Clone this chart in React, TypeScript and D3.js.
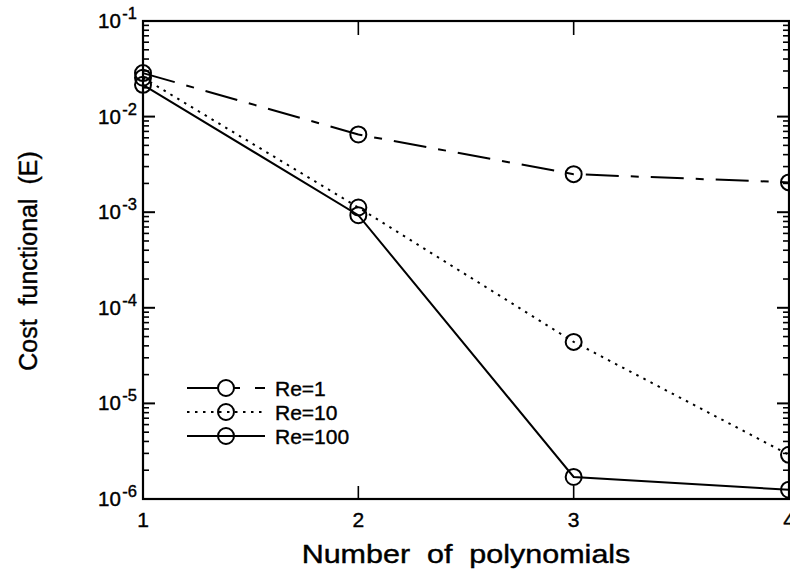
import React from "react";
import * as d3 from "d3";

const xValues = [1, 2, 3, 4];
const re1 = [0.0285, 0.0065, 0.0025, 0.00205];
const re10 = [0.0255, 0.00112, 4.4e-5, 2.9e-6];
const re100 = [0.0215, 0.00093, 1.7e-6, 1.25e-6];
const seriesNames = ["Re=1", "Re=10", "Re=100"];
const yTickExponents = [-1, -2, -3, -4, -5, -6];
const xTickLabels = ["1", "2", "3", "4"];
const xTitle = "Number\u00a0 of\u00a0 polynomials";
const yTitle = "Cost\u00a0 functional\u00a0 (E)";

const W = 790;
const H = 576;
const FONT = "'Liberation Sans', Arial, Helvetica, sans-serif";

export default function App() {
  const x = d3.scaleLinear().domain([1, 4]).range([143, 789]);
  const y = d3.scaleLog().domain([1e-6, 1e-1]).range([499, 21]);
  const left = 143, right = 789, top = 21, bottom = 499;

  const line = d3
    .line<number>()
    .x((_, i) => x(xValues[i]))
    .y((d) => y(d));

  const series = [
    { name: seriesNames[0], data: re1, dash: "33,12,8,12" },
    { name: seriesNames[1], data: re10, dash: "2.5,5.5" },
    { name: seriesNames[2], data: re100, dash: "" },
  ];

  const minorTicks: number[] = [];
  for (let e = -6; e < -1; e++) {
    for (let k = 2; k <= 9; k++) minorTicks.push(k * Math.pow(10, e));
  }

  const legendY = [388, 412, 436];
  const textStroke = { stroke: "#000", strokeWidth: 0.4 };

  return (
    <svg
      width={W}
      height={H}
      style={{ position: "absolute", left: 0, top: 0, background: "#fff" }}
      fontFamily={FONT}
    >
      <rect x={0} y={0} width={W} height={H} fill="#fff" />
      <rect x={left} y={top} width={right - left} height={bottom - top} fill="none" stroke="#000" strokeWidth={2.2} />
      {yTickExponents.map((e) => {
        const yy = y(Math.pow(10, e));
        return (
          <g key={e}>
            <line x1={left} x2={left + 12} y1={yy} y2={yy} stroke="#000" strokeWidth={2} />
            <line x1={right} x2={right - 12} y1={yy} y2={yy} stroke="#000" strokeWidth={2} />
            <text x={137} y={yy + 7} textAnchor="end" fontSize={20.5} {...textStroke}>
              10<tspan fontSize={16.5} dx={1.5} dy={-9}>{String(e)}</tspan>
            </text>
          </g>
        );
      })}
      {minorTicks.map((v, i) => (
        <g key={i}>
          <line x1={left} x2={left + 6} y1={y(v)} y2={y(v)} stroke="#000" strokeWidth={1.6} />
          <line x1={right} x2={right - 6} y1={y(v)} y2={y(v)} stroke="#000" strokeWidth={1.6} />
        </g>
      ))}
      {xValues.map((v, i) => (
        <g key={v}>
          <line x1={x(v)} x2={x(v)} y1={bottom} y2={bottom - 13} stroke="#000" strokeWidth={1.6} />
          <line x1={x(v)} x2={x(v)} y1={top} y2={top + 14} stroke="#000" strokeWidth={1.6} />
          <text x={x(v)} y={527} textAnchor="middle" fontSize={21} {...textStroke}>
            {xTickLabels[i]}
          </text>
        </g>
      ))}
      {series.map((s) => (
        <g key={s.name}>
          <path d={line(s.data) || ""} fill="none" stroke="#000" strokeWidth={2} strokeDasharray={s.dash} />
          {s.data.map((v, i) => (
            <circle key={i} cx={x(xValues[i])} cy={y(v)} r={8} fill="none" stroke="#000" strokeWidth={2} />
          ))}
        </g>
      ))}
      <g>
        <line x1={187} x2={218} y1={legendY[0]} y2={legendY[0]} stroke="#000" strokeWidth={2} />
        <line x1={234} x2={240} y1={legendY[0]} y2={legendY[0]} stroke="#000" strokeWidth={2} />
        <line x1={255} x2={265} y1={legendY[0]} y2={legendY[0]} stroke="#000" strokeWidth={2} />
        <circle cx={226} cy={legendY[0]} r={8} fill="none" stroke="#000" strokeWidth={2} />
        <line x1={187} x2={265} y1={legendY[1]} y2={legendY[1]} stroke="#000" strokeWidth={2} strokeDasharray="2.5,5.5" />
        <circle cx={226} cy={legendY[1]} r={8} fill="none" stroke="#000" strokeWidth={2} />
        <line x1={187} x2={265} y1={legendY[2]} y2={legendY[2]} stroke="#000" strokeWidth={2} />
        <circle cx={226} cy={legendY[2]} r={8} fill="none" stroke="#000" strokeWidth={2} />
        {seriesNames.map((n, i) => (
          <text key={n} x={275} y={legendY[i] + 7.5} fontSize={21} {...textStroke}>
            {n}
          </text>
        ))}
      </g>
      <text
        transform="translate(466,563) scale(1.22,1)"
        textAnchor="middle"
        fontSize={25}
        {...textStroke}
      >
        {xTitle}
      </text>
      <text transform="translate(37,261) rotate(-90)" textAnchor="middle" fontSize={25} {...textStroke}>
        {yTitle}
      </text>
    </svg>
  );
}
